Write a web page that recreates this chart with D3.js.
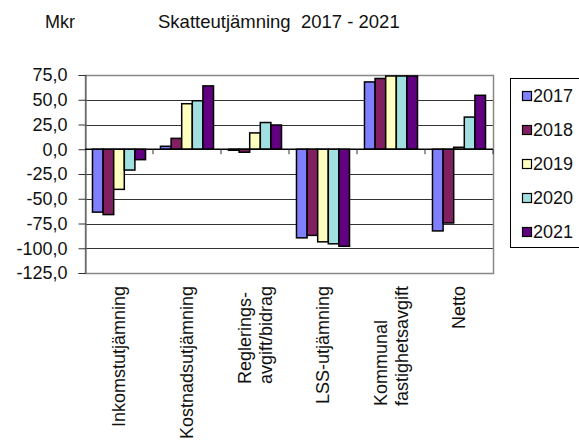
<!DOCTYPE html>
<html lang="sv">
<head>
<meta charset="UTF-8">
<title>Skatteutjämning 2017 - 2021</title>
<style>
  body, html { margin: 0; padding: 0; background: #fff; overflow: hidden; }
  svg { font-family: "Liberation Sans", Arial, sans-serif; }
</style>
</head>
<body>
<div id="chart"></div>
<script src="https://d3js.org/d3.v7.min.js"></script>
<script>
// data (Mkr)
const categories = ["Inkomstutjämning", "Kostnadsutjämning", "Reglerings-\navgift/bidrag",
                    "LSS-utjämning", "Kommunal\nfastighetsavgift", "Netto"];
const years = ["2017", "2018", "2019", "2020", "2021"];
const v2017 = [-63.5, 3, -1, -89.5, 68, -82.5];
const v2018 = [-66, 11, -3, -87, 71.5, -74.5];
const v2019 = [-40.5, 46, 16.5, -93.5, 74, 2];
const v2020 = [-21, 49, 27, -95.5, 74, 32.5];
const v2021 = [-10.5, 64, 24.5, -98, 74, 54.5];
const series = [v2017, v2018, v2019, v2020, v2021];
const colors = ["#8080ff", "#802060", "#ffffc0", "#a0e0e0", "#600080"];
const yTicks = [75, 50, 25, 0, -25, -50, -75, -100, -125];

const width = 579, height = 440;
const plot = { left: 85, right: 493, top: 75, bottom: 273 };
const fontSize = 18;

const svg = d3.select("#chart").append("svg")
  .attr("width", width).attr("height", height);

svg.append("text").attr("x", 45).attr("y", 28)
  .attr("font-size", fontSize).attr("fill", "#111").text("Mkr");
svg.append("text").attr("x", 158).attr("y", 28)
  .attr("font-size", 18.5).attr("fill", "#111")
  .style("white-space", "pre").text("Skatteutjämning  2017 - 2021");

const y = d3.scaleLinear().domain([-125, 75]).range([plot.bottom, plot.top]);
const x0 = d3.scaleBand().domain(d3.range(categories.length))
  .range([plot.left, plot.right]).paddingInner(0.22).paddingOuter(0.11);
const x1 = d3.scaleBand().domain(d3.range(years.length)).range([0, x0.bandwidth()]);

// gridlines
svg.append("g").selectAll("line").data(yTicks).join("line")
  .attr("x1", plot.left).attr("x2", plot.right)
  .attr("y1", d => Math.round(y(d)) + 0.5).attr("y2", d => Math.round(y(d)) + 0.5)
  .attr("stroke", "#333").attr("stroke-width", 1);

// plot border
svg.append("rect")
  .attr("x", plot.left + 0.5).attr("y", plot.top + 0.5)
  .attr("width", plot.right - plot.left).attr("height", plot.bottom - plot.top)
  .attr("fill", "none").attr("stroke", "#888").attr("stroke-width", 1.5);

// y axis
const yAxis = svg.append("g").attr("transform", `translate(${plot.left + 0.5},0)`)
  .call(d3.axisLeft(y).tickValues(yTicks).tickSize(7).tickPadding(11)
    .tickFormat(d => d3.format(".1f")(d).replace(".", ",").replace("−", "-")));
yAxis.select(".domain").attr("stroke", "#555");
yAxis.selectAll(".tick line").attr("stroke", "#333");
yAxis.selectAll("text").attr("font-size", fontSize).attr("fill", "#111")
  .attr("font-family", "Liberation Sans, Arial, sans-serif");

// bars
const groups = svg.append("g").selectAll("g").data(categories).join("g")
  .attr("transform", (d, i) => `translate(${x0(i)},0)`);
groups.selectAll("rect").data((d, i) => series.map((s, k) => ({ k, v: s[i] }))).join("rect")
  .attr("x", d => x1(d.k))
  .attr("width", x1.bandwidth())
  .attr("y", d => y(Math.max(0, d.v)))
  .attr("height", d => Math.max(1, Math.abs(y(d.v) - y(0))))
  .attr("fill", d => colors[d.k])
  .attr("stroke", "#000").attr("stroke-width", 1.5);

// zero axis with category ticks
svg.append("line").attr("x1", plot.left).attr("x2", plot.right)
  .attr("y1", y(0)).attr("y2", y(0)).attr("stroke", "#000").attr("stroke-width", 1.5);
const step = (plot.right - plot.left) / categories.length;
svg.append("g").selectAll("line").data(d3.range(1, categories.length + 1)).join("line")
  .attr("x1", i => plot.left + i * step).attr("x2", i => plot.left + i * step)
  .attr("y1", y(0)).attr("y2", y(0) + 5).attr("stroke", "#333");

// category labels, rotated; multi-line blocks keep lines left-aligned (bottom)
const lineH = 21;
svg.append("g").selectAll("g").data(categories).join("g")
  .attr("transform", (d, i) => `translate(${x0(i) + x0.bandwidth() / 2},${plot.bottom + 13}) rotate(-90)`)
  .each(function(d) {
    const lines = d.split("\n");
    const g = d3.select(this);
    const texts = lines.map((ln, j) => g.append("text")
      .attr("font-size", fontSize).attr("fill", "#111")
      .attr("y", (j - (lines.length - 1) / 2) * lineH + 6)
      .text(ln));
    const maxLen = d3.max(texts, t => t.node().getComputedTextLength());
    texts.forEach(t => t.attr("x", -maxLen));
  });

// legend
const lg = svg.append("g");
lg.append("rect").attr("x", 510.5).attr("y", 78.5).attr("width", 80).attr("height", 169)
  .attr("fill", "#fff").attr("stroke", "#000");
years.forEach((yr, k) => {
  const cy = 96 + k * 34;
  lg.append("rect").attr("x", 522.5).attr("y", cy - 4.5).attr("width", 9).attr("height", 9)
    .attr("fill", colors[k]).attr("stroke", "#000").attr("stroke-width", 1.2);
  lg.append("text").attr("x", 533).attr("y", cy + 6)
    .attr("font-size", fontSize).attr("fill", "#111").text(yr);
});
</script>
</body>
</html>
